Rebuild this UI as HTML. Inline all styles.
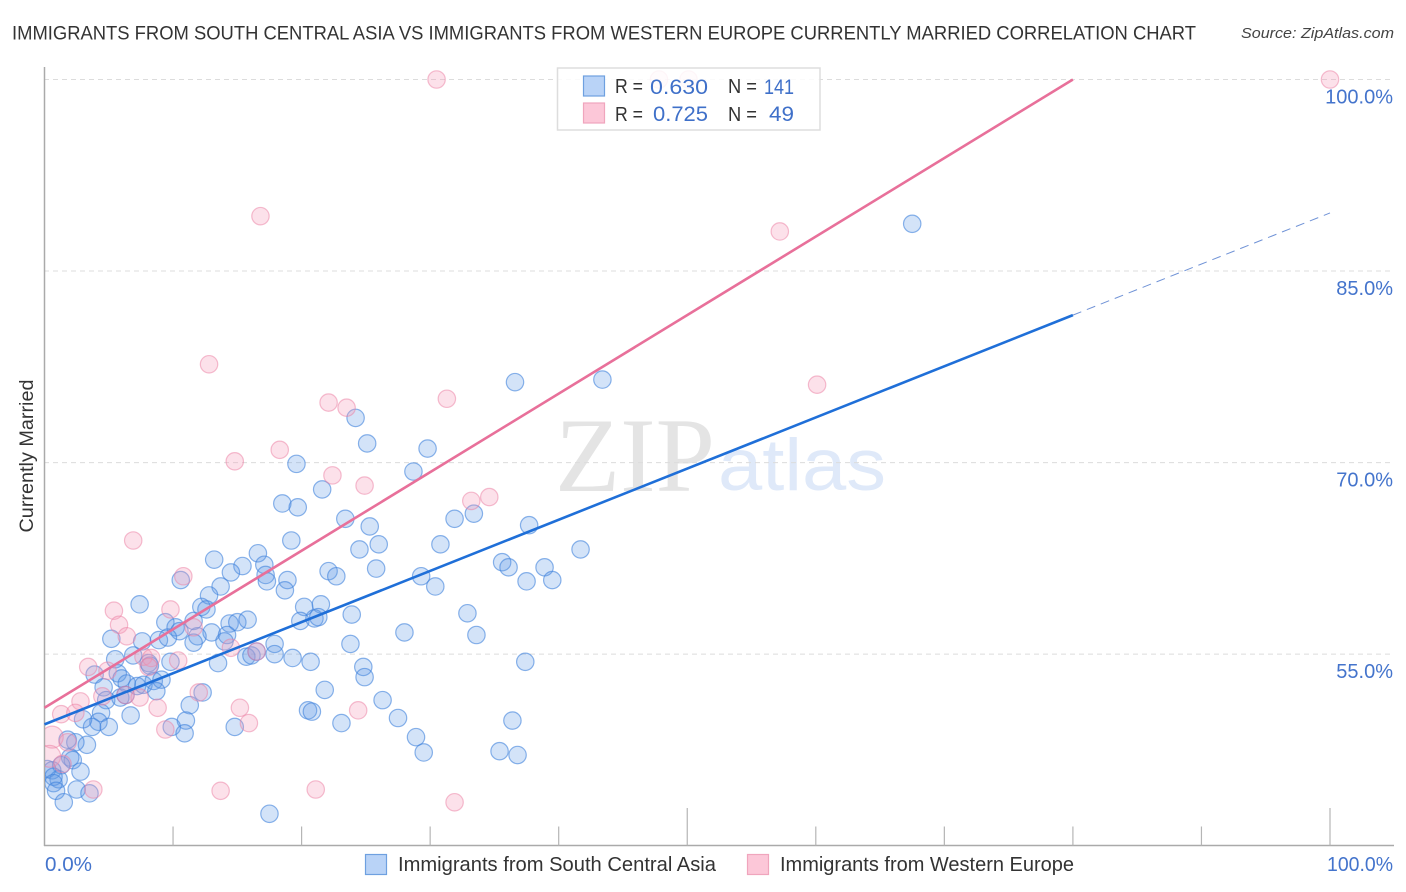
<!DOCTYPE html>
<html lang="en">
<head>
<meta charset="utf-8">
<title>Currently Married Correlation Chart</title>
<style>
html,body{margin:0;padding:0;background:#fff;width:1406px;height:892px;overflow:hidden}
svg{display:block;font-family:"Liberation Sans",sans-serif}
.tick-label{fill:#4474cc;font-size:20px}
.legend-text{fill:#333;font-size:20px}
.legend-value{fill:#3f70c9;font-size:21px}
</style>
</head>
<body>
<svg id="chart" width="1406" height="892" viewBox="0 0 1406 892" xmlns="http://www.w3.org/2000/svg">
  <defs>
    <clipPath id="plotClip"><rect x="45" y="60" width="1349" height="785"/></clipPath>
  </defs>
  <text x="12" y="39.5" font-size="19.5" fill="#333" textLength="1184" lengthAdjust="spacingAndGlyphs">IMMIGRANTS FROM SOUTH CENTRAL ASIA VS IMMIGRANTS FROM WESTERN EUROPE CURRENTLY MARRIED CORRELATION CHART</text>
  <text x="1241" y="38" font-size="15" font-style="italic" fill="#444" textLength="153" lengthAdjust="spacingAndGlyphs">Source: ZipAtlas.com</text>
  <g>
    <text x="555" y="491" font-family="'Liberation Serif',serif" font-size="106" fill="#e4e4e4" textLength="160" lengthAdjust="spacingAndGlyphs">ZIP</text>
    <text x="718" y="490" font-size="73" fill="#dfe9f9" textLength="168" lengthAdjust="spacingAndGlyphs">atlas</text>
  </g>
  <g id="grid"></g>
  <g id="axes">
    <line x1="44.5" y1="67" x2="44.5" y2="846" stroke="#aaa" stroke-width="1.5"/>
    <line x1="44" y1="845.5" x2="1394" y2="845.5" stroke="#aaa" stroke-width="1.5"/>
  </g>
  <g clip-path="url(#plotClip)">
    <g id="pointsBlue"></g>
    <g id="pointsPink"></g>
  </g>
  <g id="lines"></g>
  <text transform="translate(33,456) rotate(-90)" text-anchor="middle" font-size="19" fill="#333" textLength="153" lengthAdjust="spacingAndGlyphs">Currently Married</text>
  <g id="tickLabels"></g>
  <g>
    <rect x="557.5" y="68" width="262.5" height="62" fill="#fff" fill-opacity="0.86" stroke="#ddd" stroke-width="1.5"/>
    <rect x="583.5" y="76" width="21" height="20" fill="#b9d3f7" stroke="#6ea0e0" stroke-width="1.2"/>
    <rect x="583.5" y="103" width="21" height="20" fill="#fcc7d8" stroke="#f0a5bd" stroke-width="1.2"/>
    <text class="legend-text" x="615" y="93" textLength="28" lengthAdjust="spacingAndGlyphs">R =</text>
    <text class="legend-value" x="650" y="94" textLength="58" lengthAdjust="spacingAndGlyphs">0.630</text>
    <text class="legend-text" x="728" y="93" textLength="29" lengthAdjust="spacingAndGlyphs">N =</text>
    <text class="legend-value" x="764" y="94" textLength="30" lengthAdjust="spacingAndGlyphs">141</text>
    <text class="legend-text" x="615" y="121" textLength="28" lengthAdjust="spacingAndGlyphs">R =</text>
    <text class="legend-value" x="653" y="121" textLength="55" lengthAdjust="spacingAndGlyphs">0.725</text>
    <text class="legend-text" x="728" y="121" textLength="29" lengthAdjust="spacingAndGlyphs">N =</text>
    <text class="legend-value" x="769" y="121" textLength="25" lengthAdjust="spacingAndGlyphs">49</text>
  </g>
  <g>
    <rect x="365.5" y="854.5" width="21" height="20" fill="#b9d3f7" stroke="#6ea0e0" stroke-width="1.2"/>
    <text x="398" y="871" font-size="20" fill="#333" textLength="318" lengthAdjust="spacingAndGlyphs">Immigrants from South Central Asia</text>
    <rect x="747.5" y="854.5" width="21" height="20" fill="#fcc7d8" stroke="#f0a5bd" stroke-width="1.2"/>
    <text x="780" y="871" font-size="20" fill="#333" textLength="294" lengthAdjust="spacingAndGlyphs">Immigrants from Western Europe</text>
  </g>
</svg>
<script>
var xTicks = [10,20,30,40,50,60,70,80,90,100];
var xMajorTicks = [50,100];
var yGridValues = [100,85,70,55];
var yTickLabels = ["100.0%","85.0%","70.0%","55.0%"];
var xEndLabels = ["0.0%","100.0%"];
var xEndValues = [0,100];

var blueX = [67.5,36.6,43.4,24.2,25.1,29.8,28.7,19.6,21.6,18.5,19.7,23.4,25.3,31.9,33.4,37.7,19.2,24.5,26.0,30.8,41.7,16.6,13.2,15.4,14.5,17.1,17.2,17.3,22.1,22.7,25.8,29.3,30.4,35.6,36.1,38.9,37.5,39.5,10.6,18.9,18.7,13.7,12.8,7.4,12.2,12.6,20.2,21.5,23.9,32.9,19.9,21.0,21.3,9.4,11.6,10.2,10.5,14.4,15.0,15.8,13.0,14.2,14.0,28.0,33.6,5.2,7.6,8.9,9.6,11.9,11.6,23.8,17.9,17.9,15.7,16.1,16.5,19.3,20.7,6.9,5.5,8.1,8.2,9.8,13.5,37.4,24.8,24.9,3.9,5.7,6.0,6.4,7.2,7.7,8.5,9.1,8.7,4.6,4.8,5.9,6.3,6.7,12.3,11.3,21.8,26.3,11.0,9.9,10.9,14.8,20.5,20.8,23.1,27.5,36.4,28.9,29.5,35.4,36.8,4.4,4.2,3.7,3.0,5.0,3.3,2.4,1.8,2.0,2.2,1.3,2.8,0.2,0.6,1.1,0.7,0.7,0.9,2.5,3.5,1.5,17.5];
var blueY = [88.7,76.3,76.5,73.5,71.5,71.1,69.3,69.9,67.9,66.8,66.5,65.6,65.0,65.6,66.0,65.1,63.9,63.2,63.6,63.6,63.2,62.9,62.4,61.9,61.4,62.0,61.2,60.7,61.5,61.1,61.7,61.1,60.3,62.2,61.8,61.8,60.7,60.8,60.8,60.8,60.0,60.3,59.6,58.9,58.7,58.5,58.7,58.9,58.1,58.2,57.6,57.8,57.9,57.5,57.6,57.1,56.8,57.4,57.5,57.7,56.7,56.5,56.0,56.7,56.5,56.2,56.0,56.1,56.3,56.4,55.9,55.8,55.8,55.0,54.8,54.9,55.2,54.7,54.4,54.9,54.6,54.3,54.1,54.4,54.3,54.4,54.0,53.2,53.4,53.5,53.1,52.7,52.5,52.6,52.9,53.0,52.1,52.4,51.4,51.6,51.8,50.2,52.0,51.0,52.2,51.4,49.8,49.3,48.8,49.3,50.6,50.5,49.6,50.0,49.8,48.5,47.3,47.4,47.1,50.4,49.7,49.3,49.9,49.3,47.9,48.1,48.3,46.9,46.7,46.3,45.8,46.0,45.9,45.2,45.4,44.9,44.3,44.4,44.1,43.4,42.5];

var pinkX = [10.8,5.4,5.8,6.4,9.8,11.6,3.4,4.9,7.7,8.3,8.1,10.4,14.5,16.5,4.5,2.8,1.3,2.4,6.3,7.4,8.8,12.0,15.2,15.9,9.4,0.6,0.4,1.8,1.4,3.8,13.7,21.1,30.5,47.8,50.1,100,16.8,57.2,12.8,60.1,31.3,22.1,23.5,14.8,18.3,22.4,24.9,33.2,34.6,6.9,24.4,31.9];
var pinkY = [61.1,58.4,57.3,56.4,58.5,57.1,54.0,53.7,54.8,54.7,54.0,54.5,55.5,55.2,51.7,51.3,50.3,50.4,51.8,51.6,50.8,52.0,50.8,49.6,49.1,48.5,47.0,48.1,46.4,44.4,44.3,44.4,100,100,100,100,89.3,88.1,77.7,76.1,75.0,74.7,74.3,70.1,71.0,69.0,68.2,67.0,67.3,63.9,50.6,43.4];
var pinkLargeValues = [48.5,47.0];

var blueTrendX = [0,80];
var blueTrendY = [49.5,81.55];
var blueProjectionX = [80,100];
var blueProjectionY = [81.55,89.55];
var pinkTrendX = [0,80];
var pinkTrendY = [50.8,100];

var SVGNS = "http://www.w3.org/2000/svg";
function xScale(v){ return 44.5 + v * 12.855; }
function yScale(v){ return 79.5 + (100 - v) * 12.77; }
function make(tag, parent, attrs){
  var el = document.createElementNS(SVGNS, tag);
  for (var k in attrs) el.setAttribute(k, attrs[k]);
  parent.appendChild(el);
  return el;
}
var grid = document.getElementById("grid");
var axes = document.getElementById("axes");
var tickLabels = document.getElementById("tickLabels");
var pointsBlue = document.getElementById("pointsBlue");
var pointsPink = document.getElementById("pointsPink");
var lines = document.getElementById("lines");

yGridValues.forEach(function(v, i){
  var g = make("line", grid, {x1:44, x2:1394, y1:yScale(v), y2:yScale(v), stroke:"#dcdcdc", "stroke-width":1, "stroke-dasharray":"5 4"});
  
  
  var t = make("text", tickLabels, {x:1393, y:yScale(v) + 24, "text-anchor":"end", "class":"tick-label"});
  t.textContent = yTickLabels[i];
  
  
});
xTicks.forEach(function(v){
  var top = xMajorTicks.indexOf(v) >= 0 ? 808 : 826.5;
  var m = make("line", axes, {x1:xScale(v), x2:xScale(v), y1:top, y2:845.5, stroke:"#b5b5b5", "stroke-width":1.2});
  
  
});
xEndLabels.forEach(function(label, i){
  var atEnd = i === 1;
  var t = make("text", tickLabels, {x: atEnd ? 1393 : xScale(xEndValues[i]) + 0.5, y:871, "text-anchor": atEnd ? "end" : "start", "class":"tick-label", textLength: atEnd ? 66 : 47, lengthAdjust:"spacingAndGlyphs"});
  t.textContent = label;
  
  
});
blueX.forEach(function(v, i){
  var c = make("circle", pointsBlue, {cx:xScale(v), cy:yScale(blueY[i]), r:8.7, fill:"#5b98e6", "fill-opacity":0.27, stroke:"#3f82dc", "stroke-opacity":0.6, "stroke-width":1.2});
  
  
});
pinkX.forEach(function(v, i){
  var large = pinkLargeValues.indexOf(pinkY[i]) >= 0;
  var c = make("circle", pointsPink, {cx:xScale(v), cy:yScale(pinkY[i]), r: large ? 11 : 8.7, fill:"#f59ab8", "fill-opacity":0.3, stroke:"#ec7ea2", "stroke-opacity":0.5, "stroke-width":1.2});
  
  
});
var pinkLine = make("line", lines, {x1:xScale(pinkTrendX[0]), y1:yScale(pinkTrendY[0]), x2:xScale(pinkTrendX[1]), y2:yScale(pinkTrendY[1]), stroke:"#e8709a", "stroke-width":2.6});


var blueLine = make("line", lines, {x1:xScale(blueTrendX[0]), y1:yScale(blueTrendY[0]), x2:xScale(blueTrendX[1]), y2:yScale(blueTrendY[1]), stroke:"#1f6fd8", "stroke-width":2.6});


var blueDash = make("line", lines, {x1:xScale(blueProjectionX[0]), y1:yScale(blueProjectionY[0]), x2:xScale(blueProjectionX[1]), y2:yScale(blueProjectionY[1]), stroke:"#6f92d6", "stroke-width":1, "stroke-dasharray":"9 6"});


</script>
</body>
</html>
